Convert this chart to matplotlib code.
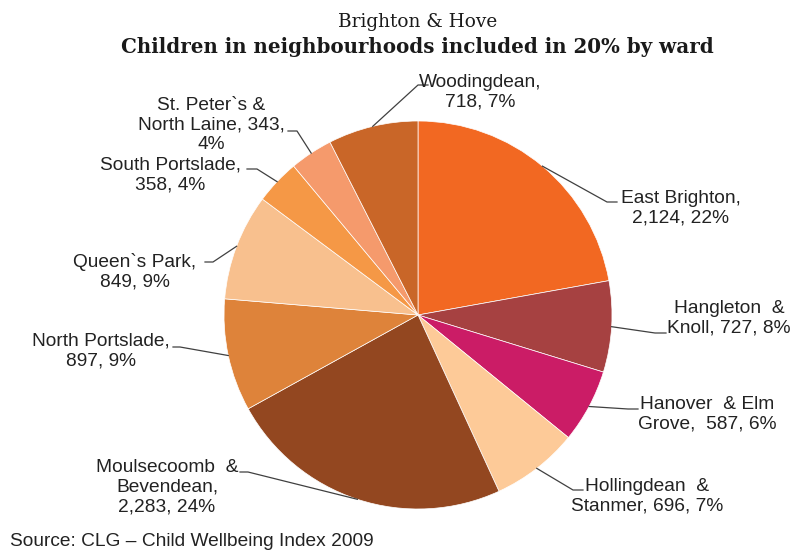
import numpy as np
import matplotlib
matplotlib.use('Agg')
import matplotlib.pyplot as plt

# children in neighbourhoods in the most deprived 20%, by ward
wards = ['East Brighton', 'Hangleton & Knoll', 'Hanover & Elm Grove',
         'Hollingdean & Stanmer', 'Moulsecoomb & Bevendean', 'North Portslade',
         'Queen`s Park', 'South Portslade', 'St. Peter`s & North Laine', 'Woodingdean']
children = [2124, 727, 587, 696, 2283, 897, 849, 358, 343, 718]
pct = [22, 8, 6, 7, 24, 9, 9, 4, 4, 7]
labels = ['East Brighton,\n2,124, 22%',
          'Hangleton  &\nKnoll, 727, 8%',
          'Hanover  & Elm\nGrove,  587, 6%',
          'Hollingdean  &\nStanmer, 696, 7%',
          'Moulsecoomb  &\nBevendean,\n2,283, 24%',
          'North Portslade,\n897, 9%',
          'Queen`s Park,\n849, 9%',
          'South Portslade,\n358, 4%',
          'St. Peter`s &\nNorth Laine, 343,\n4%',
          'Woodingdean,\n718, 7%']
colours = ['#F26822', '#A64141', '#CB1C66', '#FDCA98', '#934720',
           '#DE833A', '#F8C08E', '#F59846', '#F59A6C', '#C96628']

# label centres, leader elbows and ends (pixels from top-left)
lab_xy = [(681, 208), (729, 318), (707, 414), (647, 496), (167, 487),
          (101, 351), (135, 272), (170, 175), (211, 125), (480, 92)]
elbow = [(607, 202), (655, 333), (628, 409), (573, 490), (248, 472),
         (180, 347), (213, 262), (257, 169), (297, 131), (418, 85)]
lend = [(617, 202), (666, 333), (638, 409), (583, 490), (240, 472),
        (173, 347), (205, 262), (247, 169), (288, 131), (428, 85)]

W, H = 794, 551
fig = plt.figure(figsize=(W / 100, H / 100), dpi=100)
fig.patch.set_facecolor('white')

cx, cy, r = 418, 315, 194
ax = fig.add_axes([(cx - r) / W, (H - cy - r) / H, 2 * r / W, 2 * r / H])
wedges, _ = ax.pie(children, colors=colours, startangle=90, counterclock=False,
                   radius=1, wedgeprops=dict(edgecolor='white', linewidth=0.5))
ax.set_xlim(-1, 1)
ax.set_ylim(-1, 1)
ax.set_aspect('equal')
ax.axis('off')

# overlay in pixel units for titles, labels and leader lines
ov = fig.add_axes([0, 0, 1, 1])
ov.set_xlim(0, W)
ov.set_ylim(H, 0)
ov.axis('off')
ov.patch.set_alpha(0)

to_pix = ax.transData + ov.transData.inverted()
font = 'Liberation Sans'
for w, lab, (tx, ty), (ex, ey), (lx, ly) in zip(wedges, labels, lab_xy, elbow, lend):
    th = np.deg2rad((w.theta1 + w.theta2) / 2)
    sx, sy = to_pix.transform((np.cos(th), np.sin(th)))
    ov.plot([sx, ex, lx], [sy, ey, ly], color='#404040', lw=0.9)
    ov.text(tx, ty, lab, ha='center', va='center', multialignment='center',
            fontsize=13.8, family=font, color='#222222', linespacing=1.22)

ov.text(418, 22, 'Brighton & Hove', ha='center', va='center',
        fontsize=13.3, family='DejaVu Serif', color='#1a1a1a')
ov.text(417, 47, 'Children in neighbourhoods included in 20% by ward',
        ha='center', va='center', fontsize=14.3, fontweight='bold',
        family='DejaVu Serif', color='#1a1a1a')
ov.text(10, 541, 'Source: CLG \u2013 Child Wellbeing Index 2009', ha='left',
        va='center', fontsize=13.8, family=font, color='#222222')

fig.savefig('out.png', dpi=100)
